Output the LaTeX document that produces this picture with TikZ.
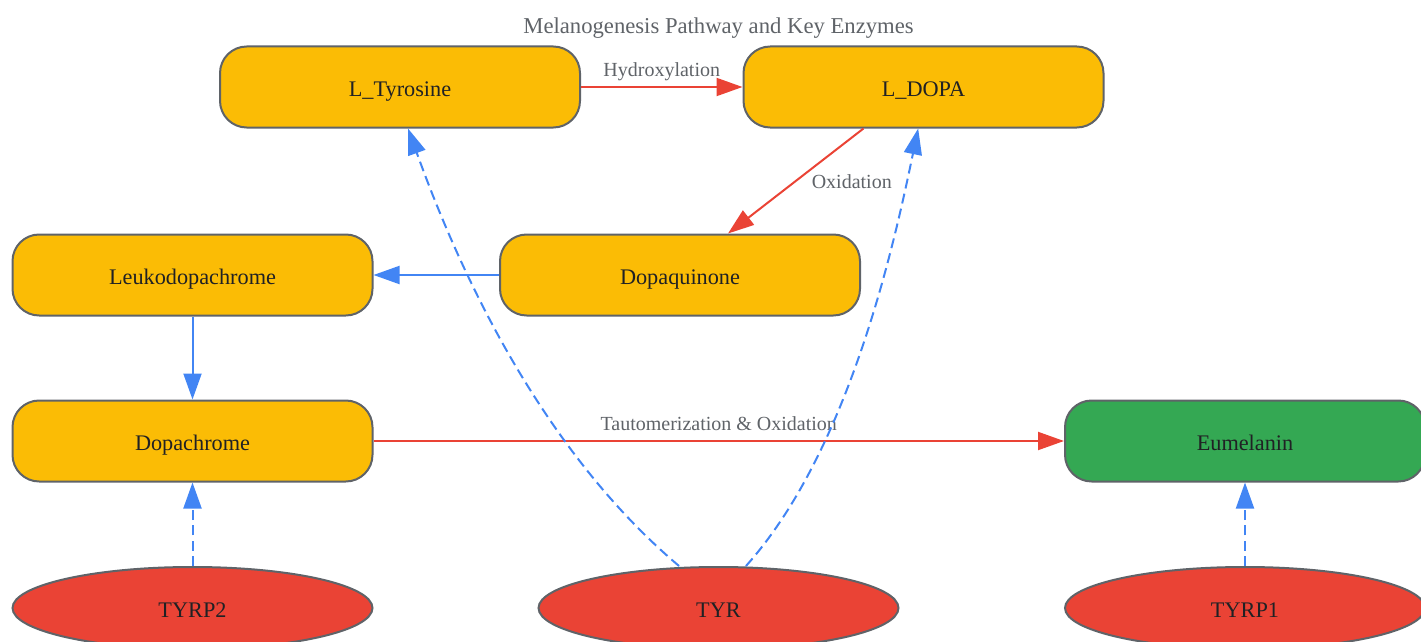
\documentclass[tikz,border=0pt]{standalone}
\usepackage{fontspec}
\setmainfont{Liberation Serif}
\usetikzlibrary{arrows.meta}
\usetikzlibrary{shapes.geometric}
\tikzset{every picture/.style={line width=0.75pt}}
\tikzset{
  substep/.style={draw={rgb, 255:red, 95; green, 99; blue, 104 }, line width=1.5pt,
    fill={rgb, 255:red, 251; green, 188; blue, 5 }, rounded corners=20pt,
    minimum width=270pt, minimum height=60.75pt, inner sep=0pt,
    text height=15pt, text depth=0.4pt,
    text={rgb, 255:red, 32; green, 33; blue, 36 }, font=\fontsize{16.7}{20}\selectfont},
  enzyme/.style={ellipse, draw={rgb, 255:red, 95; green, 99; blue, 104 }, line width=1.5pt,
    fill={rgb, 255:red, 234; green, 67; blue, 53 }, minimum width=270pt,
    minimum height=61.5pt, inner sep=0pt, text height=15pt, text depth=0.4pt,
    text={rgb, 255:red, 32; green, 33; blue, 36 }, font=\fontsize{16.7}{20}\selectfont},
  reaction/.style={draw={rgb, 255:red, 234; green, 67; blue, 53 }, line width=1.5pt,
    -{Triangle[length=19.5pt,width=13.5pt]}},
  transfer/.style={draw={rgb, 255:red, 66; green, 133; blue, 244 }, line width=1.5pt,
    -{Triangle[length=19.5pt,width=13.5pt]}},
  catalysis/.style={transfer, dash pattern=on 7.5pt off 4pt},
  edgelabel/.style={text={rgb, 255:red, 95; green, 99; blue, 104 }, inner sep=0.75pt,
    font=\fontsize{15}{18}\selectfont},
}

\begin{document}
\begin{tikzpicture}[x=0.75pt,y=0.75pt,yscale=-1,xscale=1]
\useasboundingbox (0,0) rectangle (1421,642);

%Rounded Rect: substrates
\node [substep] (tyrosine) at (400,87) {L\_Tyrosine};
\node [substep] (ldopa) at (923.5,87) {L\_DOPA};
\node [substep] (leuko) at (192.5,275) {Leukodopachrome};
\node [substep] (dopaquinone) at (680,275) {Dopaquinone};
\node [substep] (dopachrome) at (192.5,441) {Dopachrome};
\node [substep, fill={rgb, 255:red, 52; green, 168; blue, 83 }] (eumelanin) at (1245,441) {Eumelanin};

%Shape: Ellipse enzymes
\node [enzyme] (tyrp2) at (192.5,608) {TYRP2};
\node [enzyme] (tyr) at (718.5,608) {TYR};
\node [enzyme] (tyrp1) at (1245,608) {TYRP1};

% Text Node
\node [text={rgb, 255:red, 95; green, 99; blue, 104 }, font=\fontsize{17}{20}\selectfont] (caption) at (718.5,28) {Melanogenesis Pathway and Key Enzymes};

%Straight Lines
\draw [reaction] (tyrosine) -- (ldopa) node [edgelabel, midway, yshift=11.5pt] {Hydroxylation};
\draw [reaction] ([xshift=-45pt]ldopa.south) -- ([xshift=36pt]dopaquinone.north) node [edgelabel, midway, xshift=42pt, yshift=-0.75pt] {Oxidation};
\draw [transfer] (dopaquinone) -- (leuko);
\draw [transfer] (leuko) -- (dopachrome);
\draw [reaction] (dopachrome) -- (eumelanin) node [edgelabel, midway, yshift=12.75pt] {Tautomerization \& Oxidation};

%Curve Lines
\draw [catalysis] ([xshift=-29.6pt]tyr.north) .. controls (530,440) and (450,245) .. ([xshift=6pt]tyrosine.south);
\draw [catalysis] ([xshift=20.6pt]tyr.north) .. controls (850,450) and (895,240) .. ([xshift=-4pt]ldopa.south);
\draw [catalysis] (tyrp2) -- (dopachrome);
\draw [catalysis] (tyrp1) -- (eumelanin);

\end{tikzpicture}
\end{document}
